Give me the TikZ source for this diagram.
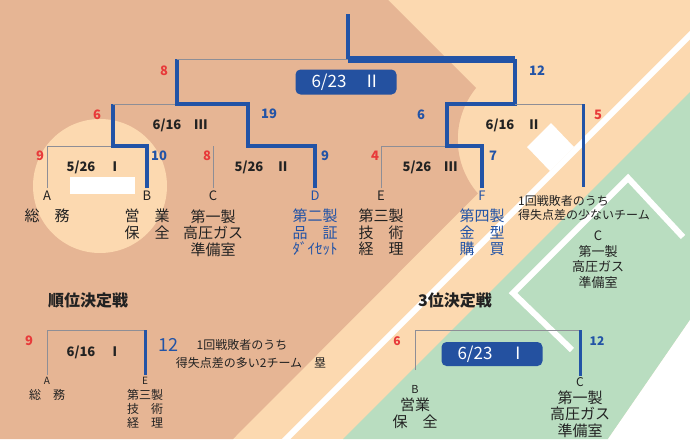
\documentclass[tikz,border=0pt]{standalone}
\usepackage{fontspec}
\setmainfont{Noto Sans CJK JP}
\usetikzlibrary{positioning}
\definecolor{dirt}{HTML}{E6B594}
\definecolor{sand}{HTML}{FCD9B0}
\definecolor{turf}{HTML}{B9DDC0}
\definecolor{bkblue}{HTML}{2253A6}
\definecolor{boxblue}{HTML}{2451A0}
\definecolor{scred}{HTML}{E83A3A}
\definecolor{linegray}{HTML}{8E8E96}
\definecolor{ink}{HTML}{222222}
\tikzset{
  lose/.style={draw=linegray,line width=0.9pt},
  win/.style={draw=bkblue,line width=4pt},
  winfin/.style={draw=bkblue,line width=7pt},
  winlow/.style={draw=bkblue,line width=3pt},
  chalk/.style={draw=white,line width=6pt},
  team/.style={anchor=north,inner xsep=1pt,inner ysep=2.5pt,font=\fontsize{13}{13}\selectfont,text=ink},
  names/.style={anchor=north,inner sep=1pt,align=center,font=\fontsize{15}{16.5}\selectfont,text=ink},
  scr/.style={font=\fontsize{13}{13}\selectfont\bfseries,text=scred},
  scb/.style={font=\fontsize{13}{13}\selectfont\bfseries,text=bkblue},
  dte/.style={font=\fontsize{13}{13}\selectfont\bfseries,text=ink},
  datebox/.style={fill=boxblue,rounded corners=5pt,text=white,minimum width=101pt,minimum height=25pt,font=\fontsize{17}{17}\selectfont},
  hdg/.style={font=\fontsize{16}{16}\selectfont\bfseries,text=ink},
  note/.style={inner sep=1pt,font=\fontsize{12}{14}\selectfont,text=ink}
}

\begin{document}
\begin{tikzpicture}[x=1pt,y=-1pt]
  \useasboundingbox (0,0) rectangle (690,439);
  % Field background
  \fill[sand] (0,0) rectangle (690,439);
  \fill[turf] (690,92) -- (690,320) -- (608,439) -- (343,439) -- cycle;
  \fill[white] (690,320) -- (690,439) -- (608,439) -- cycle;
  \fill[dirt] (0,0) -- (388,0) -- (476,88) arc[start angle=219,end angle=139,radius=82] -- (233,439) -- (0,439) -- cycle;
  \fill[sand] (100,186) circle[radius=67];
  \fill[white] (70,177) rectangle (135,194);

  % Chalk lines and base
  \draw[chalk] (700,25) -- (276,449);
  \draw[chalk] (683,237) -- (628,178) -- (513,293) -- (572,350);
  \fill[white] (551,123) -- (574,147) -- (550,171) -- (527,147) -- cycle;

  % Teams
  \node[team] (tA) at (47,188) {A};
  \node[team] (tB) at (147,188) {B};
  \node[team] (tC) at (213,188) {C};
  \node[team,text=bkblue] (tD) at (315,188) {D};
  \node[team] (tE) at (381,188) {E};
  \node[team,text=bkblue] (tF) at (482,188) {F};
  \node[names,below=5pt of tA] (nA) {総　務};
  \node[names,below=5pt of tB] (nB) {営　業\\保　全};
  \node[names,below=5pt of tC] (nC) {第一製\\高圧ガス\\準備室};
  \node[names,text=bkblue,below=5pt of tD] (nD) {第二製\\品　証\\ﾀﾞｲｾｯﾄ};
  \node[names,below=5pt of tE] (nE) {第三製\\技　術\\経　理};
  \node[names,text=bkblue,below=5pt of tF] (nF) {第四製\\金　型\\購　買};

  % Joints
  \coordinate (r1a) at (113,146);
  \coordinate (r1b) at (248,146);
  \coordinate (r1c) at (447,146);
  \coordinate (r2a) at (177,104);
  \coordinate (r2b) at (515,104);
  \coordinate (fin) at (348,59);
  \coordinate (champ) at (348,14);
  \coordinate (wild) at (583,187);

  % 5/26
  \draw[lose] (tA.north) |- (r1a);
  \draw[win] (tB.north) |- (r1a) -- (r1a |- r2a);
  \draw[lose] (r1a |- r2a) -- (r2a);
  \draw[lose] (tC.north) -- (tC.north |- r1b);
  \draw[lose] (tE.north) |- (r1c);
  \draw[win] (tD.north) |- (r1b) -- (r1b |- r2a) -- (r2a) -- (r2a |- fin);
  \draw[win] (tF.north) |- (r1c) -- (r1c |- r2b) -- (r2b) -- (r2b |- fin);

  % 6/16 and final
  \draw[lose] (r2b) -- (r2b -| wild);
  \draw[winlow] (r2b -| wild) -- (wild);
  \draw[lose] (r2a |- fin) -- (fin);
  \draw[winfin] (fin) -- (fin -| r2b);
  \draw[win] (champ) -- (fin);

  % Scores
  \node[scr] (s1) at (164,71) {8};
  \node[scb] (s2) at (537,71) {12};
  \node[scr] (s3) at (97,115) {6};
  \node[scb] (s4) at (269,114) {19};
  \node[scb] (s5) at (421,115) {6};
  \node[scr] (s6) at (598,115) {5};
  \node[scr] (s7) at (40,156) {9};
  \node[scb] (s8) at (159,156) {10};
  \node[scr] (s9) at (207,156) {8};
  \node[scb] (s10) at (325,156) {9};
  \node[scr] (s11) at (375,156) {4};
  \node[scb] (s12) at (493,156) {7};

  % Dates
  \node[datebox] (d1) at (346,82) {6/23　Ⅱ};
  \node[dte] (d2) at (180,125) {6/16　Ⅲ};
  \node[dte] (d3) at (513,125) {6/16　Ⅱ};
  \node[dte] (d4) at (94,167) {5/26　Ⅰ};
  \node[dte] (d5) at (262,167) {5/26　Ⅱ};
  \node[dte] (d6) at (430,167) {5/26　Ⅲ};

  % Wild card
  \node[note,anchor=west,align=left] (wnote) at (517,208) {1回戦敗者のうち\\得失点差の少ないチーム};
  \node[names,font=\fontsize{13}{15.5}\selectfont] (wC) at (598,230) {C\\第一製\\高圧ガス\\準備室};

  % Placing match
  \node[hdg] (h1) at (88,300) {順位決定戦};
  \node[team,font=\fontsize{10}{10}\selectfont,inner ysep=1.5pt] (lA) at (47,375) {A};
  \node[team,font=\fontsize{10}{10}\selectfont,inner ysep=1.5pt] (lE) at (145,375) {E};
  \node[names,font=\fontsize{12}{14}\selectfont,below=2pt of lA] (mA) {総　務};
  \node[names,font=\fontsize{12}{14}\selectfont,below=2pt of lE] (mE) {第三製\\技　術\\経　理};
  \coordinate (l5) at (145,330);
  \draw[lose] (lA.north) |- (l5);
  \draw[winlow] (lE.north) -- (l5);
  \node[scr] (s13) at (29,341) {9};
  \node[text=bkblue,font=\fontsize{18}{18}\selectfont] (s14) at (168,345) {12};
  \node[dte] (d7) at (94,352) {6/16　Ⅰ};
  \node[note] (ln1) at (242,345) {1回戦敗者のうち};
  \node[note] (ln2) at (251,363) {得失点差の多い2チーム　塁};

  % Third place
  \node[hdg] (h2) at (455,300) {3位決定戦};
  \node[team,font=\fontsize{11}{11}\selectfont,inner ysep=1.5pt] (b3) at (415,384) {B};
  \node[team,font=\fontsize{12}{12}\selectfont,inner ysep=1.5pt] (c3) at (580,376) {C};
  \node[names,font=\fontsize{15}{17}\selectfont,below=1pt of b3] (mB) {営業\\保　全};
  \node[names,font=\fontsize{15}{16.5}\selectfont,below=1pt of c3] (mC) {第一製\\高圧ガス\\準備室};
  \coordinate (l3) at (580,330);
  \draw[lose,shorten <=14pt] (b3.north) |- (l3);
  \draw[winlow] (c3.north) -- (l3);
  \node[scr,font=\fontsize{12}{12}\selectfont\bfseries] (s15) at (397,341) {6};
  \node[scb,font=\fontsize{12}{12}\selectfont\bfseries] (s16) at (597,341) {12};
  \node[datebox,minimum height=24pt] (d8) at (492,354) {6/23　Ⅰ};
\end{tikzpicture}
\end{document}
